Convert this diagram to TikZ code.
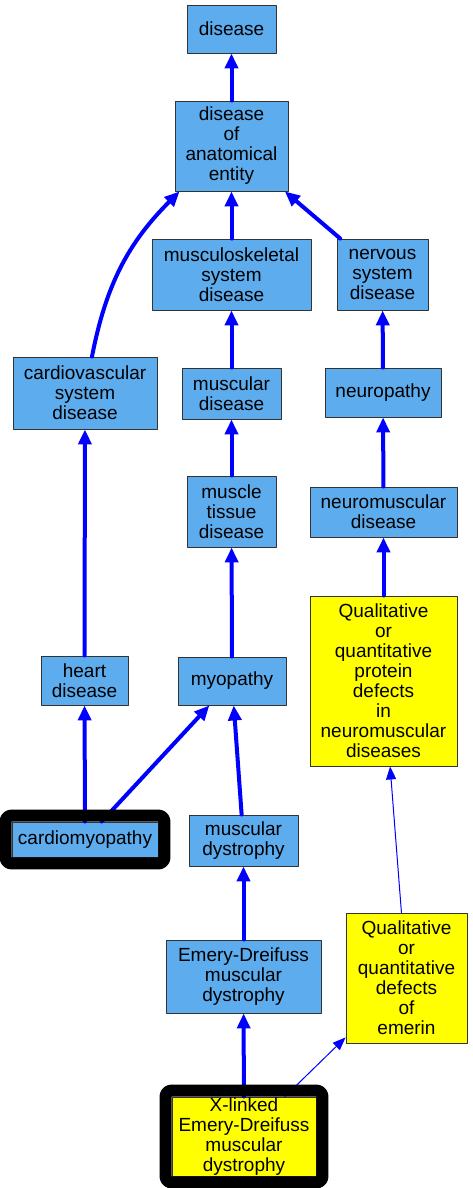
\documentclass[tikz,border=0pt]{standalone}
\usepackage{fontspec}
\setmainfont{Liberation Sans}
\usetikzlibrary{arrows.meta}
\definecolor{termblue}{RGB}{92,172,238}
\definecolor{termyellow}{RGB}{255,255,0}
\definecolor{isablue}{RGB}{0,0,255}

\begin{document}
\begin{tikzpicture}[line cap=round,line join=round,x=1pt,y=1pt,
	term/.style={draw=black!80,line width=0.9pt,fill=termblue,align=center,inner sep=0pt,font=\fontsize{19}{20}\selectfont},
	protein/.style={term,fill=termyellow},
	isa/.style={draw=isablue,line width=4pt,-{Triangle[length=15pt,width=13pt]}},
	hasa/.style={draw=isablue,line width=1pt,-{Triangle[length=13pt,width=10pt]}},
	focus/.style={line width=12pt,rounded corners=6pt,line cap=butt}]
		\useasboundingbox (0,0) rectangle (473,-1188);
		% terms
		\node[term,minimum width=89pt,minimum height=48pt] (dis) at (231.5,-29) {disease};
		\node[term,minimum width=113pt,minimum height=90pt] (doae) at (231.5,-146) {disease\\of\\anatomical\\entity};
		\node[term,minimum width=159pt,minimum height=71pt] (msd) at (231.5,-274.5) {musculoskeletal\\system\\disease};
		\node[term,minimum width=91pt,minimum height=71pt] (nsd) at (382.5,-274.5) {nervous\\system\\disease};
		\node[term,minimum width=144pt,minimum height=72pt] (cvd) at (85,-393) {cardiovascular\\system\\disease};
		\node[term,minimum width=99pt,minimum height=51pt] (mus) at (231.5,-393.5) {muscular\\disease};
		\node[term,minimum width=116pt,minimum height=49pt] (neu) at (383,-392.5) {neuropathy};
		\node[term,minimum width=89pt,minimum height=71pt] (mtd) at (231.5,-511.5) {muscle\\tissue\\disease};
		\node[term,minimum width=147pt,minimum height=50pt] (nmd) at (383.5,-512) {neuromuscular\\disease};
		\node[protein,minimum width=147pt,minimum height=170pt] (qpd) at (383.5,-681) {Qualitative\\or\\quantitative\\protein\\defects\\in\\neuromuscular\\diseases};
		\node[term,minimum width=87pt,minimum height=49pt] (hd) at (84.5,-680.5) {heart\\disease};
		\node[term,minimum width=108pt,minimum height=48pt] (myo) at (232,-681) {myopathy};
		\node[term,minimum width=146pt,minimum height=35pt] (cm) at (85,-839.5) {cardiomyopathy};
		\node[term,minimum width=109pt,minimum height=51pt] (md) at (243.5,-840.5) {muscular\\dystrophy};
		\node[term,minimum width=155pt,minimum height=73pt] (edmd) at (243.5,-976.5) {Emery-Dreifuss\\muscular\\dystrophy};
		\node[protein,minimum width=121pt,minimum height=130pt] (qde) at (406.5,-978) {Qualitative\\or\\quantitative\\defects\\of\\emerin};
		\node[protein,minimum width=144pt,minimum height=79pt] (xl) at (244,-1136.5) {X-linked\\Emery-Dreifuss\\muscular\\dystrophy};
		% is_a links
		\draw[isa] (doae) -- (dis);
		\draw[isa] ([xshift=7pt]cvd.north) to[out=79,in=-135] ([xshift=5pt]doae.south west);
		\draw[isa] (msd) -- (doae);
		\draw[isa] (nsd) -- (doae);
		\draw[isa] (mus) -- (msd);
		\draw[isa] (neu) -- (nsd);
		\draw[isa] (mtd) -- (mus);
		\draw[isa] (nmd) -- (neu);
		\draw[isa] (qpd) -- (nmd);
		\draw[isa] (hd) -- (cvd);
		\draw[isa] (myo) -- (mtd);
		\draw[isa] (cm) -- (hd);
		\draw[isa] (cm) -- (myo);
		\draw[isa] (md) -- (myo);
		\draw[isa] (edmd) -- (md);
		\draw[isa] (xl) -- (edmd);
		\draw[hasa] (qde) -- (qpd);
		\draw[hasa] (xl) -- (qde);
		% frames of the query terms
		\draw[focus] ([shift={(-6pt,6pt)}]cm.north west) rectangle ([shift={(6pt,-6pt)}]cm.south east);
		\draw[focus] ([shift={(-6pt,6pt)}]xl.north west) rectangle ([shift={(6pt,-6pt)}]xl.south east);
	\end{tikzpicture}
\end{document}
